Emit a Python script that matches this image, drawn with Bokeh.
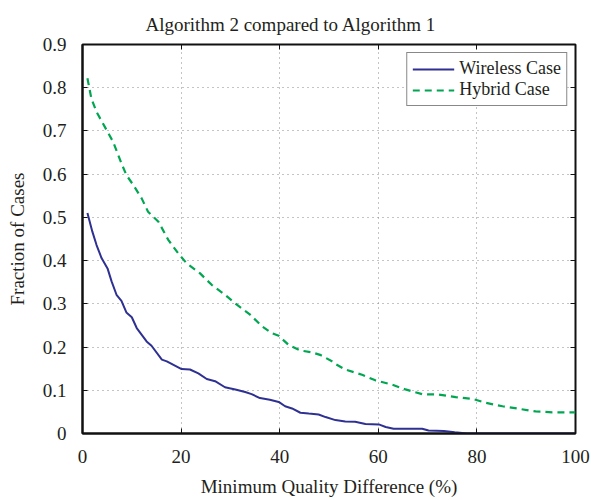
from bokeh.plotting import figure
from bokeh.models import Range1d, LinearAxis, FixedTicker, Legend, LegendItem, Title
from bokeh.embed import file_html
from bokeh.resources import INLINE

title_text = "Algorithm 2 compared to Algorithm 1"
x_label = "Minimum Quality Difference (%)"
y_label = "Fraction of Cases"
x_ticks = [0, 20, 40, 60, 80, 100]
y_ticks = [0, 0.1, 0.2, 0.3, 0.4, 0.5, 0.6, 0.7, 0.8, 0.9]

wireless_x = [1, 2, 2.85, 3.86, 5.08, 5.9, 6.9, 7.9, 8.9, 10, 11, 13, 14, 16.1, 17.1, 20.1, 21.8, 23.5,
              25.2, 26.9, 28.9, 31, 33, 34.3, 36, 38, 39.8, 41.1, 42.5, 44.2, 45.9, 47.9, 49.3, 51.3,
              53.3, 55.3, 57.4, 60.1, 61.5, 63.1, 68.9, 70.2, 73.3, 75.5, 78, 100]
wireless_y = [0.51, 0.467, 0.436, 0.406, 0.382, 0.352, 0.321, 0.307, 0.280, 0.269, 0.244, 0.213, 0.203,
              0.171, 0.167, 0.149, 0.148, 0.139, 0.126, 0.121, 0.107, 0.102, 0.096, 0.091, 0.082, 0.078,
              0.073, 0.063, 0.058, 0.048, 0.046, 0.044, 0.038, 0.031, 0.028, 0.027, 0.022, 0.021, 0.015,
              0.011, 0.011, 0.007, 0.006, 0.003, 0.0, 0.0]

hybrid_x = [1, 1.8, 2.85, 4.5, 6.2, 7.9, 8.9, 10.3, 12, 13.3, 15.4, 17.4, 19.4, 21.1, 23.8, 26.2, 28.9,
            31.3, 34, 36.4, 38.4, 39.8, 41.8, 44.2, 46.5, 48.2, 50.6, 51.3, 53.3, 56.7, 59.4, 62.8, 65.5,
            68.9, 72.3, 75.7, 79.1, 81.8, 85.2, 88.6, 91.9, 95.3, 100]
hybrid_y = [0.822, 0.775, 0.744, 0.71, 0.675, 0.625, 0.598, 0.575, 0.544, 0.513, 0.49, 0.448, 0.417,
            0.394, 0.371, 0.344, 0.321, 0.298, 0.275, 0.248, 0.232, 0.226, 0.205, 0.192, 0.188, 0.182,
            0.167, 0.161, 0.148, 0.136, 0.123, 0.113, 0.102, 0.091, 0.090, 0.084, 0.080, 0.071, 0.063,
            0.057, 0.051, 0.049, 0.049]

FONT = "Liberation Serif"
TXT = "#231f20"

p = figure(frame_width=493, frame_height=389, output_backend="svg", toolbar_location=None,
           x_range=Range1d(0, 100), y_range=Range1d(0, 0.9),
           min_border_left=82, min_border_right=16, min_border_top=44, min_border_bottom=67,
           background_fill_color="white", border_fill_color="white")

p.title = Title(text=title_text, align="left", text_font=FONT, text_font_size="19px",
                text_font_style="normal", text_color=TXT, standoff=20, offset=63,
                text_line_height=1.0)

p.outline_line_color = "#111111"
p.outline_line_width = 2

for ax in (p.xaxis[0], p.yaxis[0]):
    ax.major_label_text_font = FONT
    ax.major_label_text_font_size = "19px"
    ax.major_label_text_color = TXT
    ax.axis_label_text_font = FONT
    ax.axis_label_text_font_size = "19px"
    ax.axis_label_text_font_style = "normal"
    ax.axis_label_text_color = TXT
    ax.major_tick_in = 5
    ax.major_tick_out = 0
    ax.minor_tick_line_color = None
    ax.axis_line_color = "#111111"
    ax.axis_line_width = 2
    ax.major_tick_line_color = "#111111"

p.xaxis[0].ticker = FixedTicker(ticks=x_ticks)
p.yaxis[0].ticker = FixedTicker(ticks=y_ticks)
p.yaxis[0].major_label_overrides = {0: "0"}
p.xaxis[0].axis_label = x_label
p.yaxis[0].axis_label = y_label
p.xaxis[0].major_label_standoff = 16
p.xaxis[0].axis_label_standoff = 10
p.yaxis[0].major_label_standoff = 16
p.yaxis[0].axis_label_standoff = 12

for loc, ticks in (("right", y_ticks), ("above", x_ticks)):
    ax = LinearAxis(ticker=FixedTicker(ticks=ticks), major_label_text_font_size="0px",
                    major_label_text_color=None,
                    major_tick_in=5, major_tick_out=0, minor_tick_line_color=None,
                    axis_line_color=None, major_tick_line_color="#111111",
                    major_label_standoff=0)
    p.add_layout(ax, loc)

for g in (p.xgrid[0], p.ygrid[0]):
    g.grid_line_color = "#888888"
    g.grid_line_dash = "1 4"
    g.grid_line_width = 1

p.xgrid[0].ticker = FixedTicker(ticks=x_ticks)
p.ygrid[0].ticker = FixedTicker(ticks=y_ticks)

r1 = p.line(wireless_x, wireless_y, line_color="#2e3192", line_width=2)
r2 = p.line(hybrid_x, hybrid_y, line_color="#00a651", line_width=2.2, line_dash="7 5")

legend = Legend(items=[LegendItem(label="Wireless Case", renderers=[r1]),
                       LegendItem(label="Hybrid Case", renderers=[r2])],
                location="top_right", label_text_font=FONT, label_text_font_size="18px",
                label_text_color=TXT, border_line_color="#111111", border_line_width=1.5,
                glyph_width=42, glyph_height=20, label_height=20, spacing=0, padding=5,
                margin=8, label_standoff=5, background_fill_alpha=1)
p.add_layout(legend)

open("out.html", "w").write(file_html(p, INLINE))
